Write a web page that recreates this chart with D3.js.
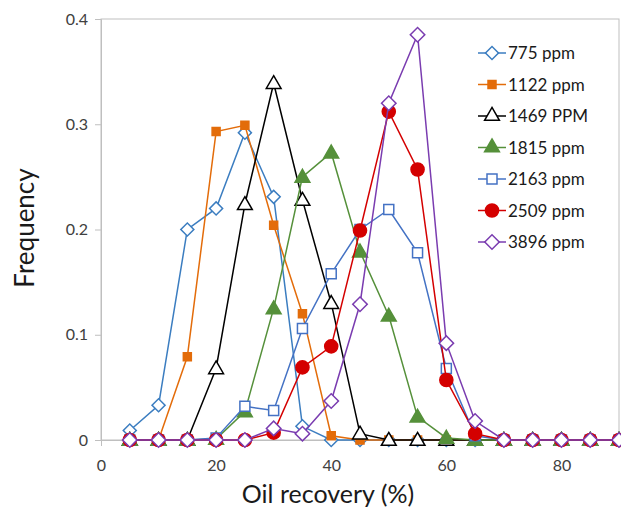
<!DOCTYPE html>
<html>
<head>
<meta charset="utf-8">
<script src="https://cdn.jsdelivr.net/npm/d3@7"></script>
<style>
  html, body { margin: 0; padding: 0; background: #fff; }
  svg { display: block; font-family: Lato, "Open Sans", sans-serif; }
</style>
</head>
<body>
<svg id="chart" width="621" height="508"></svg>
<script>
var xValues = [5, 10, 15, 20, 25, 30, 35, 40, 45, 50, 55, 60, 65, 70, 75, 80, 85, 90];

var s775  = [0.009, 0.033, 0.200, 0.220, 0.292, 0.231, 0.013, 0, 0, 0, 0, 0, 0, 0, 0, 0, 0, 0];
var s1122 = [0, 0, 0.079, 0.293, 0.299, 0.204, 0.120, 0.004, 0, 0, 0, 0, 0, 0, 0, 0, 0, 0];
var s1469 = [0, 0, 0, 0.068, 0.224, 0.339, 0.228, 0.130, 0.006, 0, 0, 0, 0, 0, 0, 0, 0, 0];
var s1815 = [0, 0, 0, 0.001, 0.027, 0.125, 0.250, 0.273, 0.179, 0.118, 0.022, 0.002, 0, 0, 0, 0, 0, 0];
var s2163 = [0, 0, 0, 0.002, 0.032, 0.028, 0.106, 0.158, 0.200, 0.219, 0.178, 0.068, 0.004, 0, 0, 0, 0, 0];
var s2509 = [0, 0, 0, 0, 0, 0.007, 0.069, 0.089, 0.199, 0.312, 0.257, 0.057, 0.006, 0, 0, 0, 0, 0];
var s3896 = [0, 0, 0, 0, 0, 0.011, 0.006, 0.037, 0.129, 0.320, 0.385, 0.092, 0.018, 0, 0, 0, 0, 0];

var seriesNames = ["775 ppm", "1122 ppm", "1469 PPM", "1815 ppm", "2163 ppm", "2509 ppm", "3896 ppm"];
var xTicks = [0, 20, 40, 60, 80];
var yTicks = [0, 0.1, 0.2, 0.3, 0.4];

(function () {
  // marker style per series
  var styles = [
    { color: "#3b7dc0", shape: "diamond", fill: "#fff", size: 85 },
    { color: "#e36c0a", shape: "square", fill: "#e36c0a", size: 64 },
    { color: "#000000", shape: "triangle", fill: "#fff", size: 95 },
    { color: "#55903a", shape: "triangle", fill: "#55903a", size: 95 },
    { color: "#4472c4", shape: "square", fill: "#fff", size: 100 },
    { color: "#d40000", shape: "circle", fill: "#d40000", size: 135 },
    { color: "#7a3cb0", shape: "diamond", fill: "#fff", size: 105 }
  ];
  var allSeries = [s775, s1122, s1469, s1815, s2163, s2509, s3896];

  var svg = d3.select("#chart");
  var pLeft = 101, pRight = 619, pTop = 19, pBottom = 440;

  var x = d3.scaleLinear().domain([0, 90]).range([pLeft, pRight]);
  var y = d3.scaleLinear().domain([0, 0.4]).range([pBottom, pTop]);

  // plot frame
  svg.append("rect").attr("x", pLeft).attr("y", pTop)
    .attr("width", pRight - pLeft).attr("height", pBottom - pTop)
    .attr("fill", "none").attr("stroke", "#bfbfbf").attr("stroke-width", 1);

  var xAxis = svg.append("g").attr("transform", "translate(0," + pBottom + ")")
    .call(d3.axisBottom(x).tickValues(xTicks).tickSize(6).tickPadding(14).tickFormat(d3.format("d")));
  var yAxis = svg.append("g").attr("transform", "translate(" + pLeft + ",0)")
    .call(d3.axisLeft(y).tickValues(yTicks).tickSize(6).tickPadding(7)
      .tickFormat(function (d) { return d === 0 ? "0" : d3.format(".1f")(d); }));
  [xAxis, yAxis].forEach(function (a) {
    a.select(".domain").attr("stroke", "#bfbfbf");
    a.selectAll(".tick line").attr("stroke", "#bfbfbf");
    a.selectAll(".tick text").attr("fill", "#404040").style("font-size", "16px")
      .style("font-family", "Lato, sans-serif");
  });

  svg.append("text").attr("x", 328).attr("y", 503).attr("text-anchor", "middle")
    .style("font-size", "25px").attr("fill", "#1a1a1a").text("Oil recovery (%)");
  svg.append("text").attr("transform", "translate(34,228) rotate(-90)").attr("text-anchor", "middle")
    .style("font-size", "26px").attr("fill", "#1a1a1a").text("Frequency");

  function symbolFor(st) {
    var t = st.shape === "circle" ? d3.symbolCircle : st.shape === "triangle" ? d3.symbolTriangle : d3.symbolSquare;
    return d3.symbol().type(t).size(st.size)();
  }

  var line = d3.line().x(function (d) { return x(d[0]); }).y(function (d) { return y(d[1]); });

  allSeries.forEach(function (vals, i) {
    var st = styles[i];
    var pts = vals.map(function (v, j) { return [xValues[j], v]; });
    var g = svg.append("g");
    g.append("path").datum(pts).attr("d", line).attr("fill", "none")
      .attr("stroke", st.color).attr("stroke-width", 1.5);
    g.selectAll("path.m").data(pts).enter().append("path").attr("class", "m")
      .attr("d", symbolFor(st))
      .attr("transform", function (d) {
        var ty = st.shape === "triangle" ? y(d[1]) + 1 : y(d[1]);
        return "translate(" + x(d[0]) + "," + ty + ")" + (st.shape === "diamond" ? " rotate(45)" : "");
      })
      .attr("fill", st.fill).attr("stroke", st.color).attr("stroke-width", 1.5);
  });

  // legend
  var legend = svg.append("g");
  seriesNames.forEach(function (name, i) {
    var st = styles[i];
    var ly = 53 + i * 31.5;
    legend.append("line").attr("x1", 478).attr("x2", 506).attr("y1", ly).attr("y2", ly)
      .attr("stroke", st.color).attr("stroke-width", 1.5);
    legend.append("path").attr("d", symbolFor(st))
      .attr("transform", "translate(492," + ly + ")" + (st.shape === "diamond" ? " rotate(45)" : ""))
      .attr("fill", st.fill).attr("stroke", st.color).attr("stroke-width", 1.5);
    legend.append("text").attr("x", 508).attr("y", ly + 6)
      .style("font-size", "17px").attr("fill", "#1a1a1a").text(name);
  });
})();
</script>
</body>
</html>
